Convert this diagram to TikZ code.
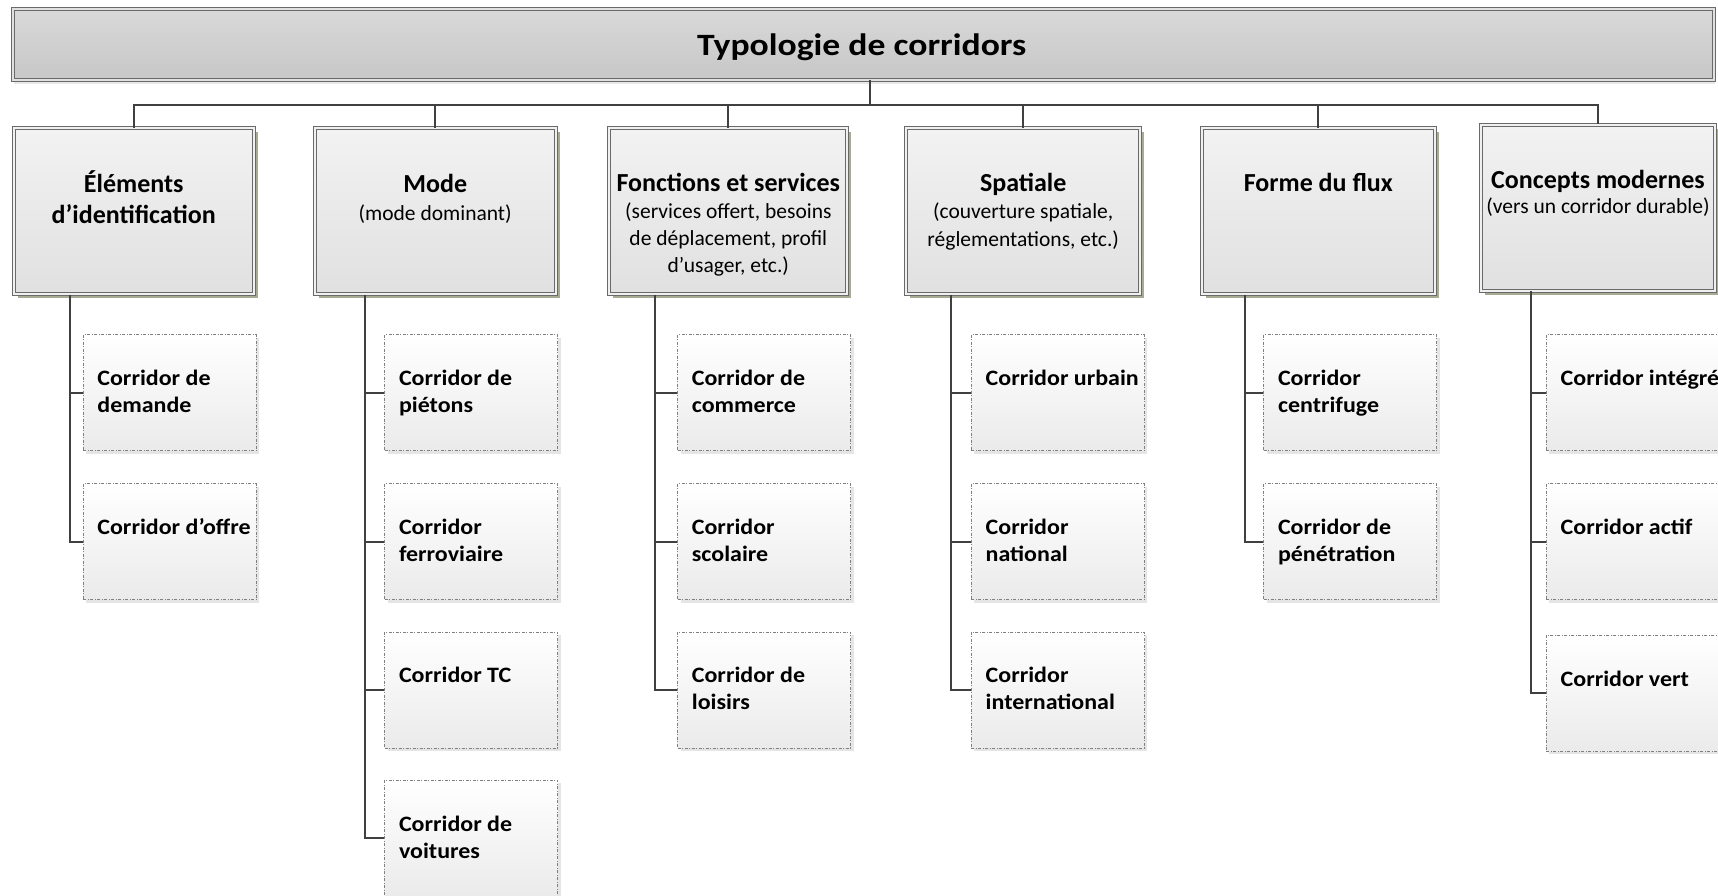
\documentclass[tikz,border=0pt]{standalone}
\usepackage{fontspec}
\setmainfont{Carlito}
\newfontfamily\titlefont[FakeStretch=1.15]{Carlito}
\newfontfamily\kidfont[FakeStretch=1.09]{Carlito}
\usetikzlibrary{shadows}
\definecolor{conncol}{HTML}{404040}
\definecolor{olivesh}{HTML}{A7AB93}
\definecolor{boxline}{HTML}{6A6A6A}
\begin{document}
\begin{tikzpicture}[x=1pt,y=-1pt,
  conn/.style={draw=conncol, line width=2pt},
  titlebox/.style={draw=boxline, double=black!12, double distance=2pt, line width=1pt,
    top color=black!15, bottom color=black!22, inner sep=0pt,
    general shadow={fill=black!9, shadow xshift=1pt, shadow yshift=-4pt}},
  catbox/.style={draw=boxline, double=black!6, double distance=2pt, line width=1pt,
    top color=black!5, bottom color=black!12, inner sep=0pt, minimum width=#1, minimum height=166pt,
    general shadow={fill=olivesh, shadow xshift=4pt, shadow yshift=-4pt}},
  kidbox/.style={draw=black!50, dash pattern=on 3pt off 1.5pt on 1pt off 1.5pt, line width=0.8pt,
    top color=white, bottom color=black!8, inner sep=0pt, minimum width=173pt, minimum height=116pt,
    anchor=north west, general shadow={fill=black!10, shadow xshift=3pt, shadow yshift=-3pt}},
  titletext/.style={font=\titlefont\fontsize{31}{37}\selectfont\bfseries, inner sep=0pt, anchor=base},
  headtext/.style={font=\fontsize{26}{31}\selectfont\bfseries, inner sep=0pt, anchor=base},
  subtext/.style={font=\fontsize{21.5}{26}\selectfont, inner sep=0pt, anchor=base},
  kidtext/.style={font=\kidfont\fontsize{22}{27}\selectfont\bfseries, inner sep=0pt, anchor=base west},
]
\useasboundingbox (0,0) rectangle (1718,895);
\clip (0,0) rectangle (1718,895);
\fill[white] (0,0) rectangle (1718,895);

% title
\node[titlebox, minimum width=1701pt, minimum height=70.4pt] (title) at (863.2,44.5) {};
\node[titletext] (titlet) at (861.7,55) {Typologie de corridors};

% categories
\node[catbox=240pt] (c1) at (133.7,211) {};
\node[catbox=241pt] (c2) at (435.2,211) {};
\node[catbox=238pt] (c3) at (728.3,211) {};
\node[catbox=234.3pt] (c4) at (1023.2,211) {};
\node[catbox=232.7pt] (c5) at (1318.3,211) {};
\node[catbox=233.4pt] (c6) at (1598,207.7) {};

\node[headtext] (c1a) at (133.7,192.7) {Éléments};
\node[headtext] (c1b) at (133.7,223) {d’identification};
\node[headtext] (c2a) at (435.2,192.7) {Mode};
\node[subtext] (c2b) at (435.2,220) {(mode dominant)};
\node[headtext] (c3a) at (728.3,191.7) {Fonctions et services};
\node[subtext] (c3b) at (728.3,218.5) {(services offert, besoins};
\node[subtext] (c3c) at (728.3,245.5) {de déplacement, profil};
\node[subtext] (c3d) at (728.3,272.5) {d’usager, etc.)};
\node[headtext] (c4a) at (1023.2,191.7) {Spatiale};
\node[subtext] (c4b) at (1023.2,218.5) {(couverture spatiale,};
\node[subtext] (c4c) at (1023.2,246.5) {réglementations, etc.)};
\node[headtext] (c5a) at (1318.3,191.7) {Forme du flux};
\node[headtext] (c6a) at (1598,188) {Concepts modernes};
\node[subtext] (c6b) at (1598,213.3) {(vers un corridor durable)};

% bus
\coordinate (bus) at (0,105);
\coordinate (tj) at (870,0);
\draw[conn] (title.south -| tj) -- (bus -| tj);
\draw[conn] (c1.north) -- (c1.north |- bus) -- (c6.north |- bus) -- (c6.north);
\draw[conn] (c2.north) -- (c2.north |- bus);
\draw[conn] (c3.north) -- (c3.north |- bus);
\draw[conn] (c4.north) -- (c4.north |- bus);
\draw[conn] (c5.north) -- (c5.north |- bus);

% children column 1
\node[kidbox] (k11) at (82.7,334.3) {};
\node[kidbox] (k12) at (82.7,483.3) {};
\node[kidtext] (k11a) at ([xshift=14.5pt,yshift=-51pt]k11.north west) {Corridor de};
\node[kidtext] (k11b) at ([xshift=14.5pt,yshift=-78.3pt]k11.north west) {demande};
\node[kidtext] (k12a) at ([xshift=14.5pt,yshift=-51pt]k12.north west) {Corridor d’offre};

% column 2
\node[kidbox] (k21) at (384.3,334.3) {};
\node[kidbox] (k22) at (384.3,483.3) {};
\node[kidbox] (k23) at (384.3,631.5) {};
\node[kidbox] (k24) at (384.3,780) {};
\node[kidtext] (k21a) at ([xshift=14.5pt,yshift=-51pt]k21.north west) {Corridor de};
\node[kidtext] (k21b) at ([xshift=14.5pt,yshift=-78.3pt]k21.north west) {piétons};
\node[kidtext] (k22a) at ([xshift=14.5pt,yshift=-51pt]k22.north west) {Corridor};
\node[kidtext] (k22b) at ([xshift=14.5pt,yshift=-78.3pt]k22.north west) {ferroviaire};
\node[kidtext] (k23a) at ([xshift=14.5pt,yshift=-51pt]k23.north west) {Corridor TC};
\node[kidtext] (k24a) at ([xshift=14.5pt,yshift=-51pt]k24.north west) {Corridor de};
\node[kidtext] (k24b) at ([xshift=14.5pt,yshift=-78.3pt]k24.north west) {voitures};

% column 3
\node[kidbox] (k31) at (677.2,334.3) {};
\node[kidbox] (k32) at (677.2,483.3) {};
\node[kidbox] (k33) at (677.2,631.5) {};
\node[kidtext] (k31a) at ([xshift=14.5pt,yshift=-51pt]k31.north west) {Corridor de};
\node[kidtext] (k31b) at ([xshift=14.5pt,yshift=-78.3pt]k31.north west) {commerce};
\node[kidtext] (k32a) at ([xshift=14.5pt,yshift=-51pt]k32.north west) {Corridor};
\node[kidtext] (k32b) at ([xshift=14.5pt,yshift=-78.3pt]k32.north west) {scolaire};
\node[kidtext] (k33a) at ([xshift=14.5pt,yshift=-51pt]k33.north west) {Corridor de};
\node[kidtext] (k33b) at ([xshift=14.5pt,yshift=-78.3pt]k33.north west) {loisirs};

% column 4
\node[kidbox] (k41) at (971,334.3) {};
\node[kidbox] (k42) at (971,483.3) {};
\node[kidbox] (k43) at (971,631.5) {};
\node[kidtext] (k41a) at ([xshift=14.5pt,yshift=-51pt]k41.north west) {Corridor urbain};
\node[kidtext] (k42a) at ([xshift=14.5pt,yshift=-51pt]k42.north west) {Corridor};
\node[kidtext] (k42b) at ([xshift=14.5pt,yshift=-78.3pt]k42.north west) {national};
\node[kidtext] (k43a) at ([xshift=14.5pt,yshift=-51pt]k43.north west) {Corridor};
\node[kidtext] (k43b) at ([xshift=14.5pt,yshift=-78.3pt]k43.north west) {international};

% column 5
\node[kidbox] (k51) at (1263.3,334.3) {};
\node[kidbox] (k52) at (1263.3,483.3) {};
\node[kidtext] (k51a) at ([xshift=14.5pt,yshift=-51pt]k51.north west) {Corridor};
\node[kidtext] (k51b) at ([xshift=14.5pt,yshift=-78.3pt]k51.north west) {centrifuge};
\node[kidtext] (k52a) at ([xshift=14.5pt,yshift=-51pt]k52.north west) {Corridor de};
\node[kidtext] (k52b) at ([xshift=14.5pt,yshift=-78.3pt]k52.north west) {pénétration};

% column 6
\node[kidbox] (k61) at (1546,334.3) {};
\node[kidbox] (k62) at (1546,483.3) {};
\node[kidbox] (k63) at (1546,635) {};
\node[kidtext] (k61a) at ([xshift=14.5pt,yshift=-51pt]k61.north west) {Corridor intégré};
\node[kidtext] (k62a) at ([xshift=14.5pt,yshift=-51pt]k62.north west) {Corridor actif};
\node[kidtext] (k63a) at ([xshift=14.5pt,yshift=-51pt]k63.north west) {Corridor vert};

% vertical connectors
\coordinate (x1) at (69.5,0);
\coordinate (x2) at (364.5,0);
\coordinate (x3) at (655.2,0);
\coordinate (x4) at (950.5,0);
\coordinate (x5) at (1245,0);
\coordinate (x6) at (1531,0);
\draw[conn] (c1.south -| x1) |- (k12.west);
\draw[conn] (k11.west -| x1) -- (k11.west);
\draw[conn] (c2.south -| x2) |- (k24.west);
\draw[conn] (k21.west -| x2) -- (k21.west);
\draw[conn] (k22.west -| x2) -- (k22.west);
\draw[conn] (k23.west -| x2) -- (k23.west);
\draw[conn] (c3.south -| x3) |- (k33.west);
\draw[conn] (k31.west -| x3) -- (k31.west);
\draw[conn] (k32.west -| x3) -- (k32.west);
\draw[conn] (c4.south -| x4) |- (k43.west);
\draw[conn] (k41.west -| x4) -- (k41.west);
\draw[conn] (k42.west -| x4) -- (k42.west);
\draw[conn] (c5.south -| x5) |- (k52.west);
\draw[conn] (k51.west -| x5) -- (k51.west);
\draw[conn] (c6.south -| x6) |- (k63.west);
\draw[conn] (k61.west -| x6) -- (k61.west);
\draw[conn] (k62.west -| x6) -- (k62.west);
\end{tikzpicture}
\end{document}
